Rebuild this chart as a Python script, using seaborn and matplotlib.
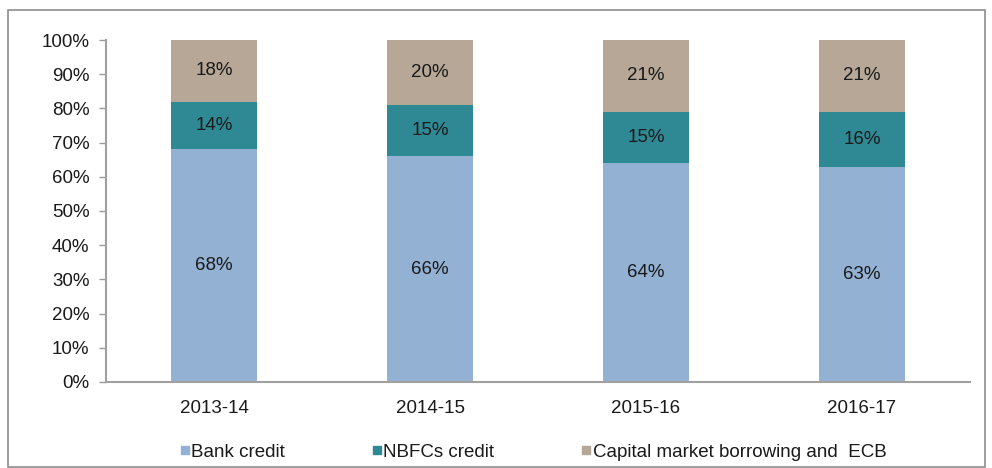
import numpy as np
import matplotlib.pyplot as plt
import seaborn as sns
from matplotlib.patches import Rectangle
from matplotlib.lines import Line2D
from matplotlib.ticker import PercentFormatter

years = ['2013-14', '2014-15', '2015-16', '2016-17']
bank_credit = [68, 66, 64, 63]
nbfc_credit = [14, 15, 15, 16]
capital_market = [18, 20, 21, 21]

series_names = ['Bank credit', 'NBFCs credit', 'Capital market borrowing and  ECB']
series_colors = ['#93B1D3', '#2E8994', '#B6A797']

sns.set_theme(style='white')
plt.rcParams['font.family'] = ['Liberation Sans', 'DejaVu Sans']

FS = 13.5
TXT = '#1A1A1A'

fig = plt.figure(figsize=(9.92, 4.68), dpi=100)
ax = fig.add_axes([0.1069, 0.1838, 0.8709, 0.7307])

bottom = np.zeros(len(years))
for name, vals, col in zip(series_names, [bank_credit, nbfc_credit, capital_market], series_colors):
    sns.barplot(x=years, y=vals, bottom=bottom, color=col, width=0.4,
                saturation=1, ax=ax, linewidth=0)
    ax.bar_label(ax.containers[-1], labels=[f'{v}%' for v in vals],
                 label_type='center', fontsize=FS, color=TXT)
    bottom = bottom + np.array(vals)

ax.set_ylim(0, 100)
ax.set_xlim(-0.5, len(years) - 0.5)
ax.set_yticks(np.arange(0, 101, 10))
ax.yaxis.set_major_formatter(PercentFormatter(decimals=0))
ax.tick_params(axis='y', left=True, length=5, width=1, color='#999999',
               labelsize=FS, pad=7, labelcolor=TXT)
ax.tick_params(axis='x', bottom=False, labelsize=FS, pad=7, labelcolor=TXT)
for s in ['top', 'right']:
    ax.spines[s].set_visible(False)
for s in ['left', 'bottom']:
    ax.spines[s].set_color('#A0A0A0')
    ax.spines[s].set_linewidth(1.5)
ax.set_xlabel('')
ax.set_ylabel('')

handles = [Line2D([0], [0], marker='s', linestyle='', markersize=6,
                  markerfacecolor=c, markeredgecolor=c) for c in series_colors]
fig.legend(handles, series_names, loc='center', bbox_to_anchor=(0.537, 0.034),
           ncol=3, frameon=False, fontsize=FS, handletextpad=0.05,
           columnspacing=4.6, handlelength=0.6, labelcolor=TXT)

# outer chart frame
fig.patches.append(Rectangle((8 / 992, 0.002), 977 / 992, 0.9766,
                             transform=fig.transFigure, fill=False,
                             edgecolor='#8C8C8C', linewidth=1.2))

fig.savefig('out.png', dpi=100)
